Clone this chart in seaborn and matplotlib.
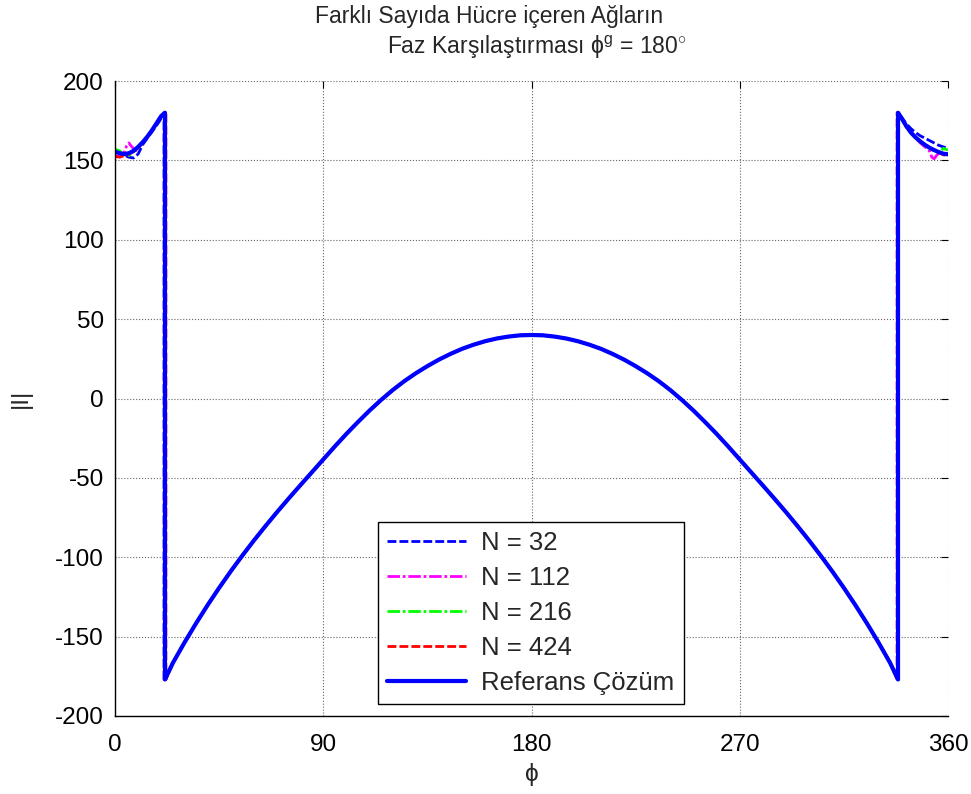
import matplotlib
matplotlib.use("Agg")
import matplotlib.pyplot as plt
import seaborn as sns

# Phase angle (degrees) and phase values of the reference solution
# left outer branch (before the first wrap-around)
phi_left = [0, 2, 4, 6, 8, 10, 12, 14, 16, 18, 20, 21.6]
ref_left = [155.5, 154.5, 154.0, 154.5, 156.0, 158.5, 161.5, 165.0, 169.0, 173.5, 178.0, 180.0]

# central arc (between the two wrap-arounds)
phi_mid = [21.6, 25, 30, 35, 40, 45, 50, 55, 60, 65, 70, 75, 80, 85, 90, 95, 100,
           105, 110, 115, 120, 125, 130, 135, 140, 145, 150, 155, 160, 165, 170, 175,
           180, 185, 190, 195, 200, 205, 210, 215, 220, 225, 230, 235, 240, 245, 250,
           255, 260, 265, 270, 275, 280, 285, 290, 295, 300, 305, 310, 315, 320, 325,
           330, 335, 338.4]
val_mid = [-177.0, -166.6, -153.8, -141.7, -130.2, -119.3, -108.9, -99.0, -89.5, -80.4,
           -71.6, -63.1, -54.8, -46.6, -38.4, -30.2, -22.3, -14.8, -7.6, -0.9, 5.3, 10.9,
           15.9, 20.4, 24.5, 28.1, 31.3, 33.9, 36.1, 37.8, 39.0, 39.8,
           40.0, 39.8, 39.0, 37.8, 36.1, 33.9, 31.3, 28.1, 24.5, 20.4, 15.9, 10.9, 5.3,
           -0.9, -7.6, -14.8, -22.3, -30.2, -38.4, -46.6, -54.8, -63.1, -71.6, -80.4,
           -89.5, -99.0, -108.9, -119.3, -130.2, -141.7, -153.8, -166.6, -177.0]

# right outer branch (after the second wrap-around)
phi_right = [338.4, 340, 342, 344, 346, 348, 350, 352, 354, 356, 358, 360]
ref_right = [180.0, 176.5, 171.5, 167.5, 164.5, 162.0, 159.8, 158.0, 156.5, 155.2, 154.2, 153.8]

# Numerical solutions: outer branches differ, central arc coincides
n32_left_phi = [0, 3, 6, 8, 10, 12, 14, 16, 18, 20, 21.2]
n32_left = [156.0, 154.0, 152.0, 151.5, 154.0, 160.0, 164.0, 168.0, 172.0, 176.5, 180.0]
n32_right_phi = [338.2, 340, 342, 344, 346, 348, 350, 352, 354, 356, 358, 360]
n32_right = [180.0, 177.0, 173.0, 170.0, 167.5, 165.5, 164.0, 162.5, 161.0, 159.5, 158.5, 157.5]

n112_left_phi = [0, 2, 4, 5, 6, 7, 8, 9, 10, 12, 14, 16, 18, 20, 21.6]
n112_left = [153.0, 152.5, 155.0, 159.0, 161.0, 159.0, 157.5, 156.0, 157.5, 161.5, 165.0,
             169.0, 173.5, 178.0, 180.0]
n112_right_phi = [338.6, 340, 342, 344, 346, 348, 350, 352, 353, 354, 355, 356, 358, 360]
n112_right = [180.0, 176.5, 171.5, 167.5, 164.0, 161.0, 158.5, 156.0, 152.0, 151.0, 153.0,
              154.5, 154.0, 154.5]

n216_left_phi = [0, 2, 4, 6, 8, 10, 12, 14, 16, 18, 20, 21.8]
n216_left = [157.0, 156.0, 153.5, 153.0, 155.5, 158.0, 161.0, 164.5, 168.5, 173.0, 177.5, 180.0]
n216_right_phi = [338.6, 340, 342, 344, 346, 348, 350, 352, 354, 356, 358, 360]
n216_right = [180.0, 176.0, 171.0, 167.0, 164.0, 161.5, 159.5, 157.5, 156.0, 155.0, 157.5, 156.5]

n424_left_phi = [0, 2, 4, 6, 8, 10, 12, 14, 16, 18, 20, 22.0]
n424_left = [152.5, 152.0, 153.0, 154.0, 155.5, 158.0, 161.0, 164.5, 168.5, 173.0, 177.5, 180.0]
n424_right_phi = [338.0, 340, 342, 344, 346, 348, 350, 352, 354, 356, 358, 360]
n424_right = [180.0, 176.5, 171.5, 167.5, 164.5, 162.0, 159.8, 158.0, 156.5, 155.0, 153.5, 153.0]

x_ticks = [0, 90, 180, 270, 360]
y_ticks = [-200, -150, -100, -50, 0, 50, 100, 150, 200]


def assemble(lphi, lval, rphi, rval):
    """Join outer branches with the shared central arc (wrap-around jumps)."""
    xs = list(lphi) + [lphi[-1]] + phi_mid[1:-1] + [rphi[0]] + list(rphi)
    ys = list(lval) + [val_mid[0]] + val_mid[1:-1] + [val_mid[-1]] + list(rval)
    return xs, ys


series = [
    ("N = 32", assemble(n32_left_phi, n32_left, n32_right_phi, n32_right),
     (0, 0, 1), (0, (3.2, 1.1)), 2.0),
    ("N = 112", assemble(n112_left_phi, n112_left, n112_right_phi, n112_right),
     (1, 0, 1), (0, (4.5, 1.0, 1.0, 1.0)), 2.0),
    ("N = 216", assemble(n216_left_phi, n216_left, n216_right_phi, n216_right),
     (0, 1, 0), (0, (4.5, 1.0, 1.0, 1.0)), 2.0),
    ("N = 424", assemble(n424_left_phi, n424_left, n424_right_phi, n424_right),
     (1, 0, 0), (0, (3.2, 1.1)), 2.0),
    ("Referans Çözüm", assemble(phi_left, ref_left, phi_right, ref_right),
     (0, 0, 1), "-", 3.0),
]

sns.set_style("white")
plt.rcParams["font.family"] = ["Liberation Sans", "DejaVu Sans"]
plt.rcParams["axes.unicode_minus"] = False
plt.rcParams["mathtext.fontset"] = "custom"
plt.rcParams["mathtext.rm"] = "Liberation Sans"
plt.rcParams["mathtext.it"] = "Liberation Sans:italic"

fig = plt.figure(figsize=(9.71, 7.94), dpi=100)
ax = fig.add_axes([115 / 971, 1 - 716 / 794, 833 / 971, 635 / 794])

for label, (xs, ys), color, ls, lw in series:
    sns.lineplot(x=xs, y=ys, ax=ax, color=color, linestyle=ls, linewidth=lw,
                 estimator=None, sort=False, label=label)

ax.set_xlim(0, 360)
ax.set_ylim(-200, 200)
ax.set_xticks(x_ticks)
ax.set_yticks(y_ticks)
ax.tick_params(axis="both", which="both", direction="in", length=5, width=0.8,
               labelsize=17.5, top=True, right=True, colors="black")
ax.tick_params(axis="y", pad=8)
ax.tick_params(axis="x", pad=13)
ax.grid(True, color=(0.4, 0.4, 0.4), linestyle=":", linewidth=0.8)
ax.set_axisbelow(True)
for side in ("top", "right"):
    ax.spines[side].set_visible(False)
for side in ("left", "bottom"):
    ax.spines[side].set_color("black")
    ax.spines[side].set_linewidth(1.0)

ax.set_xlabel("ϕ", fontsize=17.5, labelpad=5)
ax.set_ylabel("|I|", fontsize=17.5, labelpad=17)

leg = ax.legend(loc="lower left", bbox_to_anchor=(0.3157, 0.0189), borderaxespad=0,
                fontsize=18.5, handlelength=3.07, handletextpad=0.6, labelspacing=0.43,
                borderpad=0.35, fancybox=False, framealpha=1, edgecolor="black")
leg.get_frame().set_linewidth(1.0)

fig.text(489 / 971, 1 - 17 / 794, "Farklı Sayıda Hücre içeren Ağların",
         ha="center", va="center", fontsize=16.5)
fig.text(537 / 971, 1 - 47 / 794, r"Faz Karşılaştırması ϕ$^{\rm g}$ = 180$^{\circ}$",
         ha="center", va="center", fontsize=16.5)

fig.savefig("out.png", dpi=100)
